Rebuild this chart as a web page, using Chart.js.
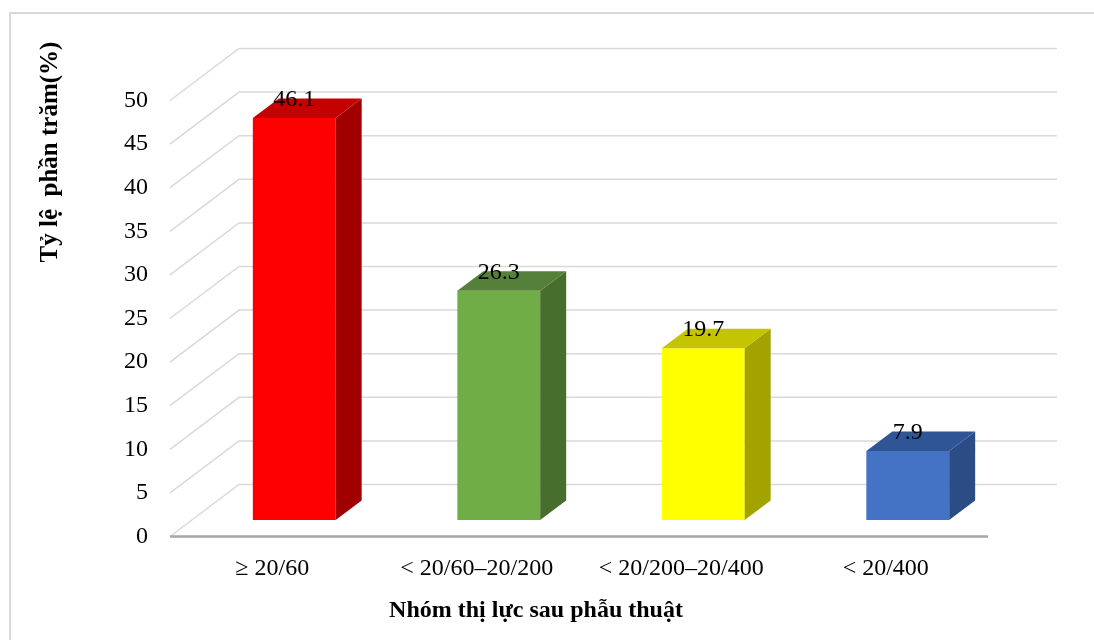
<!DOCTYPE html>
<html>
<head>
<meta charset="utf-8">
<script src="https://cdn.jsdelivr.net/npm/chart.js@4.4.1/dist/chart.umd.min.js"></script>
<style>
  html, body { margin: 0; padding: 0; background: #fff; overflow: hidden; }
  #frame { position: absolute; left: 9px; top: 12px; width: 1100px; height: 700px; border: 2px solid #d9d9d9; }
  #chart { position: absolute; left: 0; top: 0; }
</style>
</head>
<body>
<div id="frame"></div>
<canvas id="chart" width="1094" height="640"></canvas>
<script>
const categories = ['\u2265 20/60', '< 20/60\u201320/200', '< 20/200\u201320/400', '< 20/400'];
const percents = [46.1, 26.3, 19.7, 7.9];
const frontColors = ['#FF0000', '#70AD47', '#FFFF00', '#4472C4'];
const topColors = ['#C40000', '#55803A', '#C4C400', '#2F5597'];
const sideColors = ['#A00000', '#476E2D', '#A3A300', '#2C4C86'];
const yTitle = 'Tỷ lệ  phần trăm(%)';
const xTitle = 'Nhóm thị lực sau phẫu thuật';

const FONT = '"Liberation Serif", "Times New Roman", serif';
// floor depth, bar offset inside the floor, and bar depth
const DEPTH_X = 69, DEPTH_Y = 52;
const SHIFT_X = 22, SHIFT_Y = 16.5;
const BAR_DX = 26, BAR_DY = 19.5;

const fake3d = {
  id: 'fake3d',
  beforeDatasetsDraw(chart) {
    const ctx = chart.ctx;
    const y = chart.scales.y;
    const area = chart.chartArea;
    ctx.save();
    ctx.strokeStyle = '#d9d9d9';
    ctx.lineWidth = 1.5;
    y.ticks.forEach(t => {
      const py = y.getPixelForValue(t.value);
      ctx.beginPath();
      ctx.moveTo(area.left, py);
      ctx.lineTo(area.left + DEPTH_X, py - DEPTH_Y);
      ctx.lineTo(area.right + DEPTH_X, py - DEPTH_Y);
      ctx.stroke();
    });
    ctx.strokeStyle = '#a6a6a6';
    ctx.lineWidth = 2.5;
    ctx.beginPath();
    ctx.moveTo(area.left, area.bottom);
    ctx.lineTo(area.right, area.bottom);
    ctx.stroke();
    ctx.restore();
    ctx.save();
    ctx.translate(SHIFT_X, -SHIFT_Y);
  },
  afterDatasetsDraw(chart) {
    const ctx = chart.ctx;
    ctx.restore();
    const meta = chart.getDatasetMeta(0);
    ctx.save();
    meta.data.forEach((bar, i) => {
      const p = bar.getProps(['x', 'y', 'base', 'width'], true);
      const l = p.x - p.width / 2 + SHIFT_X;
      const r = p.x + p.width / 2 + SHIFT_X;
      const top = p.y - SHIFT_Y;
      const bottom = p.base - SHIFT_Y;
      // side face
      ctx.fillStyle = sideColors[i];
      ctx.beginPath();
      ctx.moveTo(r, top);
      ctx.lineTo(r + BAR_DX, top - BAR_DY);
      ctx.lineTo(r + BAR_DX, bottom - BAR_DY);
      ctx.lineTo(r, bottom);
      ctx.closePath();
      ctx.fill();
      // top face
      ctx.fillStyle = topColors[i];
      ctx.beginPath();
      ctx.moveTo(l, top);
      ctx.lineTo(l + BAR_DX, top - BAR_DY);
      ctx.lineTo(r + BAR_DX, top - BAR_DY);
      ctx.lineTo(r, top);
      ctx.closePath();
      ctx.fill();
      // value label
      ctx.fillStyle = '#000';
      ctx.font = '24px ' + FONT;
      ctx.textAlign = 'center';
      ctx.textBaseline = 'alphabetic';
      ctx.fillText(percents[i].toFixed(1), p.x + SHIFT_X, top - 12);
    });
    ctx.restore();
  },
  afterDraw(chart) {
    const ctx = chart.ctx;
    ctx.save();
    ctx.fillStyle = '#000';
    ctx.textAlign = 'center';
    ctx.textBaseline = 'middle';
    ctx.font = 'bold 24px ' + FONT;
    ctx.fillText(xTitle, 536, 611);
    ctx.font = 'bold 25px ' + FONT;
    ctx.translate(51, 152);
    ctx.rotate(-Math.PI / 2);
    ctx.fillText(yTitle, 0, 0);
    ctx.restore();
  }
};

new Chart(document.getElementById('chart'), {
  type: 'bar',
  data: {
    labels: categories,
    datasets: [{
      data: percents,
      backgroundColor: frontColors,
      borderWidth: 0,
      barPercentage: 0.405,
      categoryPercentage: 1
    }]
  },
  options: {
    responsive: false,
    animation: false,
    devicePixelRatio: 1,
    layout: { padding: { left: 50, right: 106, top: 100.5, bottom: 43.5 } },
    plugins: { legend: { display: false }, tooltip: { enabled: false } },
    scales: {
      x: {
        grid: { display: false },
        border: { display: false },
        ticks: { color: '#000', font: { family: FONT, size: 24 }, padding: 10, maxRotation: 0, autoSkip: false },
        afterFit: s => { s.height = 60; }
      },
      y: {
        min: 0,
        max: 50,
        grid: { display: false },
        border: { display: false },
        ticks: { stepSize: 5, color: '#000', font: { family: FONT, size: 24 }, padding: 14 },
        afterFit: s => { s.width = 120; }
      }
    }
  },
  plugins: [fake3d]
});
</script>
</body>
</html>
